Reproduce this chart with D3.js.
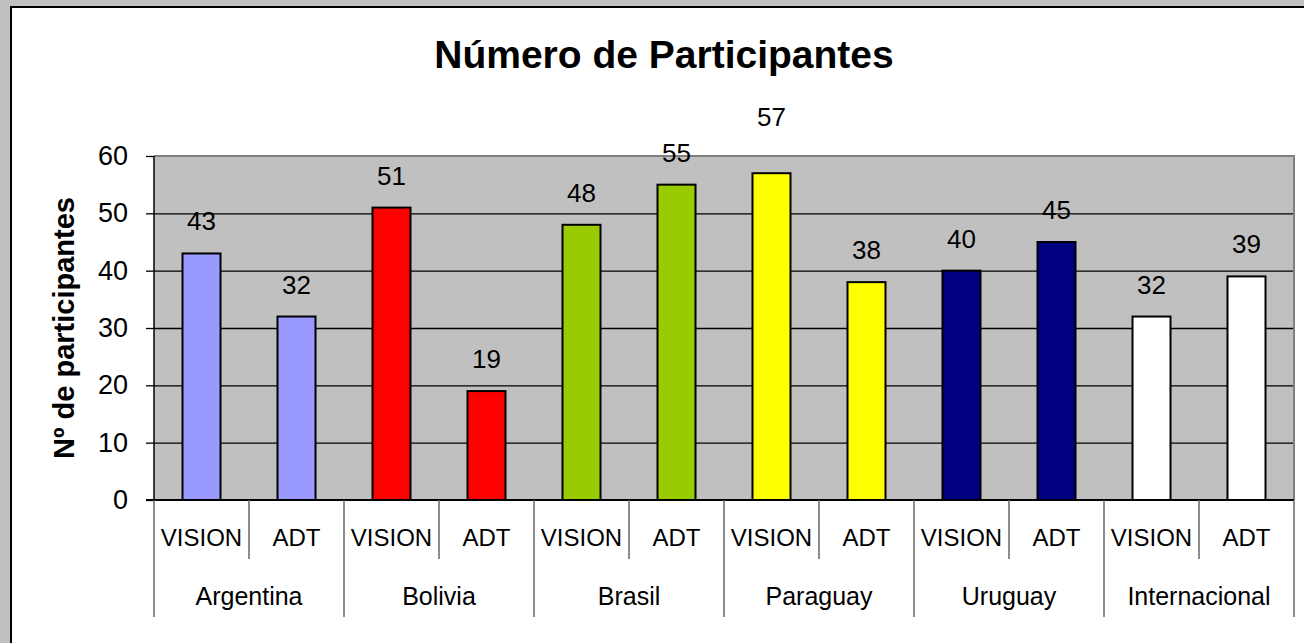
<!DOCTYPE html>
<html>
<head>
<meta charset="utf-8">
<script src="https://cdn.jsdelivr.net/npm/d3@7"></script>
<style>
	body { margin: 0; background: #c0c0c0; }
	svg { display: block; font-family: Arial, 'Liberation Sans', sans-serif; }
</style>
</head>
<body>
<svg id="canvas"></svg>
<script>
let countries = ['Argentina', 'Bolivia', 'Brasil', 'Paraguay', 'Uruguay', 'Internacional'];
let programs = ['VISION', 'ADT'];
let visionValues = [43, 51, 48, 57, 40, 32];
let adtValues = [32, 19, 55, 38, 45, 39];
let countryColors = ['#9999ff', '#ff0000', '#99cc00', '#ffff00', '#000080', '#ffffff'];
let yTicks = [0, 10, 20, 30, 40, 50, 60];

let width = 1304;
let height = 643;

let plotLeft = 154;
let plotRight = 1294;
let plotTop = 156;
let plotBottom = 500;

let svg = d3.select('#canvas')
	.attr('width', width)
	.attr('height', height)

let values = [];
countries.forEach((c, i) => {
	values.push({ country: c, program: 'VISION', value: visionValues[i], color: countryColors[i] })
	values.push({ country: c, program: 'ADT', value: adtValues[i], color: countryColors[i] })
})

let xScale = d3.scaleBand()
	.domain(countries)
	.range([plotLeft, plotRight])
	.padding(0)

let subScale = d3.scaleBand()
	.domain(programs)
	.range([0, xScale.bandwidth()])
	.padding(0)

let yScale = d3.scaleLinear()
	.domain([0, 60])
	.range([plotBottom, plotTop])

let drawFrame = () => {
	// white chart box running off the right and bottom edges
	svg.append('rect')
		.attr('x', 11)
		.attr('y', 7)
		.attr('width', width)
		.attr('height', height)
		.attr('fill', '#ffffff')
		.attr('stroke', '#000000')
		.attr('stroke-width', 2)

	svg.append('text')
		.text('Número de Participantes')
		.attr('x', 664)
		.attr('y', 68)
		.attr('text-anchor', 'middle')
		.style('font-size', '39px')
		.style('font-weight', 'bold')

	svg.append('text')
		.text('Nº de participantes')
		.attr('transform', 'translate(74, 328) rotate(-90)')
		.attr('text-anchor', 'middle')
		.style('font-size', '29px')
		.style('font-weight', 'bold')

	svg.append('rect')
		.attr('x', plotLeft)
		.attr('y', plotTop)
		.attr('width', plotRight - plotLeft)
		.attr('height', plotBottom - plotTop)
		.attr('fill', '#c0c0c0')
}

let drawGrid = () => {
	let grid = d3.axisLeft(yScale)
		.tickValues(yTicks.slice(1, -1))
		.tickSize(-(plotRight - plotLeft))
		.tickFormat('')

	svg.append('g')
		.attr('transform', `translate(${plotLeft}, 0)`)
		.call(grid)
		.call(g => g.select('.domain').remove())
		.call(g => g.selectAll('line').attr('stroke', '#000000').attr('stroke-width', 1.3))

	// gray border on top and right of the plot area
	svg.append('path')
		.attr('d', `M${plotLeft},${plotTop}H${plotRight}V${plotBottom}`)
		.attr('fill', 'none')
		.attr('stroke', '#808080')
		.attr('stroke-width', 2)
}

let drawBars = () => {
	svg.selectAll('.bar')
		.data(values)
		.enter()
		.append('rect')
		.attr('class', 'bar')
		.attr('x', (item) => {
			return xScale(item.country) + subScale(item.program) + subScale.bandwidth() * 0.3
		})
		.attr('y', (item) => {
			return yScale(item.value)
		})
		.attr('width', subScale.bandwidth() * 0.4)
		.attr('height', (item) => {
			return yScale(0) - yScale(item.value)
		})
		.attr('fill', (item) => item.color)
		.attr('stroke', '#000000')
		.attr('stroke-width', 2)

	svg.selectAll('.value-label')
		.data(values)
		.enter()
		.append('text')
		.attr('class', 'value-label')
		.text((item) => item.value)
		.attr('x', (item) => {
			return xScale(item.country) + subScale(item.program) + subScale.bandwidth() / 2
		})
		.attr('y', (item) => {
			let y = yScale(item.value) - 23
			// labels that end up above the plot border get pushed further out
			if (y < plotTop) y -= 24
			return y
		})
		.attr('text-anchor', 'middle')
		.style('font-size', '26px')
}

let drawAxes = () => {
	let yAxis = d3.axisLeft(yScale)
		.tickValues(yTicks)
		.tickSize(8)
		.tickPadding(18)

	svg.append('g')
		.attr('transform', `translate(${plotLeft}, 0)`)
		.call(yAxis)
		.call(g => g.select('.domain').attr('stroke', '#000000').attr('stroke-width', 1.5).attr('d', `M0,${plotTop}V${plotBottom}`))
		.call(g => g.selectAll('.tick line').attr('stroke', '#000000').attr('stroke-width', 1.3))
		.call(g => g.selectAll('.tick text')
			.style('font-size', '27px')
			.style('font-family', 'Arial, "Liberation Sans", sans-serif')
			.attr('fill', '#000000'))

	// baseline at zero
	svg.append('line')
		.attr('x1', plotLeft - 8)
		.attr('x2', plotRight)
		.attr('y1', yScale(0))
		.attr('y2', yScale(0))
		.attr('stroke', '#000000')
		.attr('stroke-width', 2)

	// category table under the bars
	let table = svg.append('g')

	values.forEach((item) => {
		let x0 = xScale(item.country) + subScale(item.program)
		table.append('line')
			.attr('x1', x0)
			.attr('x2', x0)
			.attr('y1', plotBottom)
			.attr('y2', item.program === 'VISION' ? 617 : 559)
			.attr('stroke', '#666666')
			.attr('stroke-width', 1.5)
		table.append('text')
			.text(item.program)
			.attr('x', x0 + subScale.bandwidth() / 2)
			.attr('y', 546)
			.attr('text-anchor', 'middle')
			.style('font-size', '24px')
	})

	table.append('line')
		.attr('x1', plotRight)
		.attr('x2', plotRight)
		.attr('y1', plotBottom)
		.attr('y2', 617)
		.attr('stroke', '#666666')
		.attr('stroke-width', 1.5)

	table.selectAll('.country-label')
		.data(countries)
		.enter()
		.append('text')
		.attr('class', 'country-label')
		.text((c) => c)
		.attr('x', (c) => xScale(c) + xScale.bandwidth() / 2)
		.attr('y', 605)
		.attr('text-anchor', 'middle')
		.style('font-size', '25px')
}

drawFrame()
drawGrid()
drawBars()
drawAxes()
</script>
</body>
</html>
